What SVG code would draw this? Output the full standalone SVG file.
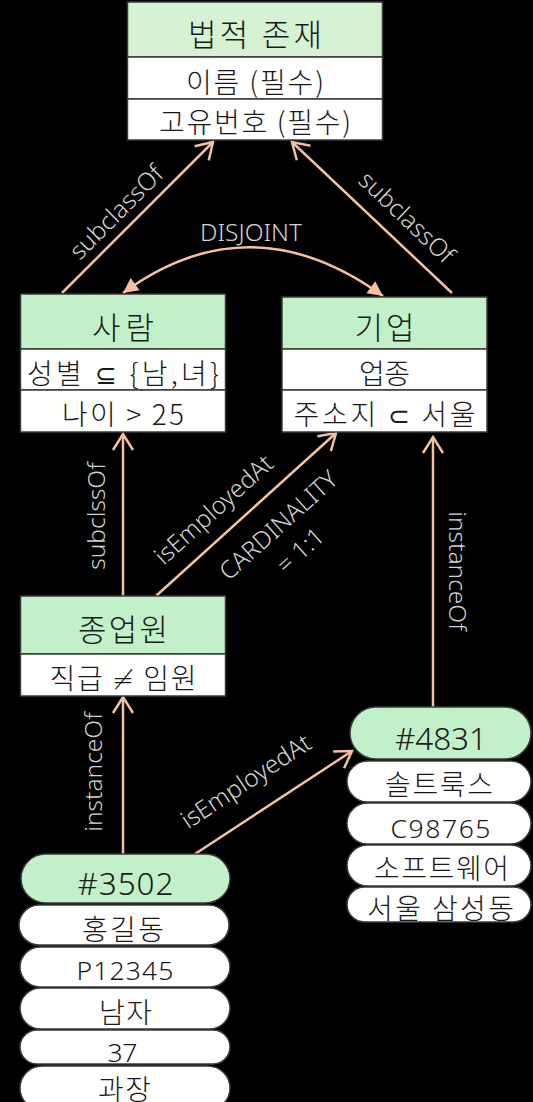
<svg xmlns="http://www.w3.org/2000/svg" width="533" height="1102" viewBox="0 0 533 1102">
  <style>
    .hdr { fill: #c2f0c8; stroke: #3a3a3a; stroke-width: 1.5; }
    .hdr-top { fill: #d5f2d2; stroke: #3a3a3a; stroke-width: 1.5; }
    .row { fill: #ffffff; stroke: #3a3a3a; stroke-width: 1.5; }
    .t { font-family: "Noto Sans CJK KR", "Noto Sans", sans-serif; font-weight: 300; fill: #1a1a1a; text-anchor: middle; }
    .lat { font-family: "Noto Sans", "Noto Sans CJK KR", sans-serif; }
    .h { font-size: 31px; }
    .r { font-size: 28px; }
    .n { font-size: 26.5px; }
    .p { font-size: 31.5px; }
    .sym { font-family: "DejaVu Sans", sans-serif; font-size: 26px; }
    .edge { fill: none; stroke: #f4c0a2; stroke-width: 2.5; }
    .lbl { font-family: "Noto Sans", "Liberation Sans", sans-serif; font-weight: 300; font-size: 24.5px; fill: #d2d2d2; text-anchor: middle; }
  </style>
  <defs>
    <marker id="open" viewBox="-20 -12 24 24" markerWidth="24" markerHeight="24" refX="0" refY="0" orient="auto" markerUnits="userSpaceOnUse">
      <path d="M-16,-10 L0,0 L-16,10" fill="none" stroke="#f4c0a2" stroke-width="2.5"/>
    </marker>
    <marker id="solid" viewBox="-16 -9 18 18" markerWidth="18" markerHeight="18" refX="0" refY="0" orient="auto-start-reverse" markerUnits="userSpaceOnUse">
      <path d="M-15,-7.5 L0,0 L-15,7.5 Z" fill="#f4c0a2"/>
    </marker>
  </defs>

  <rect width="533" height="1102" fill="#000000"/>

  <!-- connectors -->
  <g id="connectors">
    <path class="edge" d="M62,293 L213,142" marker-end="url(#open)"/>
    <path class="edge" d="M452,293 L292,142" marker-end="url(#open)"/>
    <path class="edge" d="M123,293 Q250,200 383,296" marker-start="url(#solid)" marker-end="url(#solid)"/>
    <path class="edge" d="M123,596 L123,434" marker-end="url(#open)"/>
    <path class="edge" d="M156,596 L336,433" marker-end="url(#open)"/>
    <path class="edge" d="M433,707 L433,437" marker-end="url(#open)"/>
    <path class="edge" d="M123,854 L123,697" marker-end="url(#open)"/>
    <path class="edge" d="M195,854 L352,751" marker-end="url(#open)"/>

    <text class="lbl" transform="translate(116,212) rotate(-45)" y="9">subclassOf</text>
    <text class="lbl" transform="translate(407,217) rotate(43.5)" y="9">subclassOf</text>
    <text class="lbl" x="251" y="241">DISJOINT</text>
    <text class="lbl" transform="translate(96,516) rotate(-90)" y="9">subclssOf</text>
    <text class="lbl" transform="translate(215,511) rotate(-42)" y="6.5">isEmployedAt</text>
    <text class="lbl" transform="translate(278,525) rotate(-42)" y="9">CARDINALITY</text>
    <text class="lbl" transform="translate(300,550) rotate(-42)" y="9">= 1:1</text>
    <text class="lbl" transform="translate(458,571) rotate(90)" y="9">instanceOf</text>
    <text class="lbl" transform="translate(93,772) rotate(-90)" y="9">instanceOf</text>
    <text class="lbl" transform="translate(247,783) rotate(-33.3)" y="6.5">isEmployedAt</text>
  </g>

  <!-- class: legal entity -->
  <g id="legal-entity">
    <rect class="hdr-top" x="127.5" y="2" width="255" height="55"/>
    <rect class="row" x="127.5" y="57" width="255" height="42"/>
    <rect class="row" x="127.5" y="99" width="255" height="41"/>
    <text class="t h" x="255" y="46" textLength="134" lengthAdjust="spacing">법적 존재</text>
    <text class="t r" x="255" y="93" textLength="138" lengthAdjust="spacing">이름 (필수)</text>
    <text class="t r" x="255" y="133" textLength="192" lengthAdjust="spacing">고유번호 (필수)</text>
  </g>

  <!-- class: person -->
  <g id="person">
    <rect class="hdr" x="20.5" y="294" width="205" height="55"/>
    <rect class="row" x="20.5" y="349" width="205" height="41"/>
    <rect class="row" x="20.5" y="390" width="205" height="42"/>
    <text class="t h" x="123" y="339" textLength="62" lengthAdjust="spacing">사람</text>
    <text class="t r" x="123" y="384" textLength="192" lengthAdjust="spacing">성별 <tspan class="sym">⊆</tspan> {남,녀}</text>
    <text class="t r" x="123" y="425" textLength="122" lengthAdjust="spacing">나이 &gt; 25</text>
  </g>

  <!-- class: company -->
  <g id="company">
    <rect class="hdr" x="282" y="297" width="205" height="52"/>
    <rect class="row" x="282" y="349" width="205" height="41"/>
    <rect class="row" x="282" y="390" width="205" height="42"/>
    <text class="t h" x="384.5" y="339" textLength="60" lengthAdjust="spacing">기업</text>
    <text class="t r" x="384.5" y="384" textLength="51" lengthAdjust="spacing">업종</text>
    <text class="t r" x="384.5" y="425" textLength="182" lengthAdjust="spacing">주소지 <tspan class="sym">⊂</tspan> 서울</text>
  </g>

  <!-- class: employee -->
  <g id="employee">
    <rect class="hdr" x="20.5" y="596" width="205" height="58"/>
    <rect class="row" x="20.5" y="654" width="205" height="42"/>
    <text class="t h" x="123" y="641" textLength="90" lengthAdjust="spacing">종업원</text>
    <text class="t r" x="123" y="689" textLength="147" lengthAdjust="spacing">직급 <tspan class="sym">≠</tspan> 임원</text>
  </g>

  <!-- instance #4831 -->
  <g id="inst-4831">
    <rect class="hdr" x="350" y="707" width="181" height="52" rx="26"/>
    <rect class="row" x="347" y="761" width="184" height="41" rx="20.5"/>
    <rect class="row" x="347" y="803" width="184" height="41" rx="20.5"/>
    <rect class="row" x="347" y="845" width="184" height="41" rx="20.5"/>
    <rect class="row" x="347" y="887" width="184" height="35" rx="17.5"/>
    <text class="t lat p" x="441" y="750" textLength="92" lengthAdjust="spacing">#4831</text>
    <text class="t r" x="439" y="795" textLength="108" lengthAdjust="spacing">솔트룩스</text>
    <text class="t lat n" x="440.5" y="838" textLength="100" lengthAdjust="spacing">C98765</text>
    <text class="t r" x="441.5" y="879" textLength="135" lengthAdjust="spacing">소프트웨어</text>
    <text class="t r" x="440.5" y="919" textLength="147" lengthAdjust="spacing">서울 삼성동</text>
  </g>

  <!-- instance #3502 -->
  <g id="inst-3502">
    <rect class="hdr" x="21" y="854" width="209" height="49" rx="24.5"/>
    <rect class="row" x="19" y="905" width="210" height="40" rx="20"/>
    <rect class="row" x="20" y="947" width="210" height="40" rx="20"/>
    <rect class="row" x="20" y="988" width="210" height="41" rx="20.5"/>
    <rect class="row" x="20" y="1030" width="210" height="34" rx="17"/>
    <rect class="row" x="20" y="1066" width="210" height="44" rx="22"/>
    <text class="t lat p" x="125.5" y="895" textLength="96" lengthAdjust="spacing">#3502</text>
    <text class="t r" x="123" y="940" textLength="82" lengthAdjust="spacing">홍길동</text>
    <text class="t lat n" x="125" y="980" textLength="97" lengthAdjust="spacing">P12345</text>
    <text class="t r" x="125.5" y="1023" textLength="53" lengthAdjust="spacing">남자</text>
    <text class="t lat n" x="122.5" y="1062" textLength="30" lengthAdjust="spacing">37</text>
    <text class="t r" x="124.5" y="1100" textLength="53" lengthAdjust="spacing">과장</text>
  </g>
</svg>
